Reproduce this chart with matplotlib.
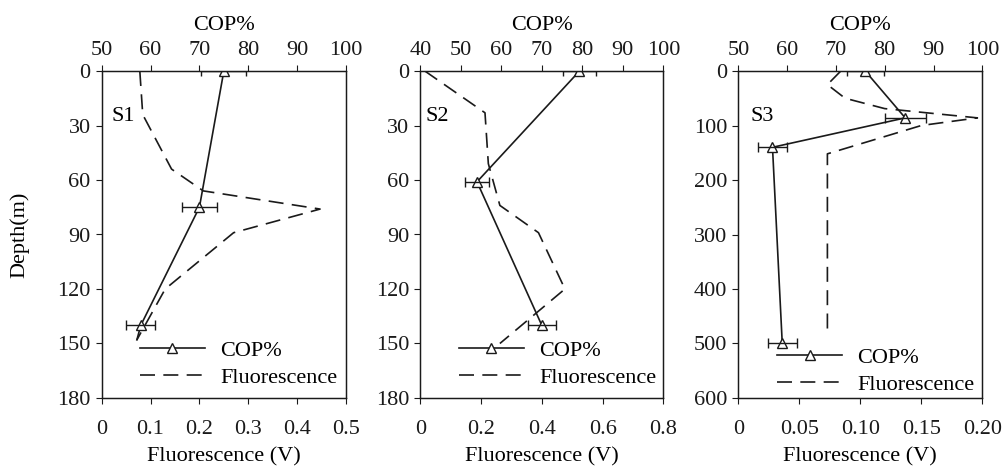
import matplotlib
matplotlib.use('Agg')
import matplotlib.pyplot as plt
from matplotlib.lines import Line2D

plt.rcParams['font.family'] = ['Liberation Serif', 'DejaVu Serif']
plt.rcParams['font.size'] = 16

# S1
s1_cop_depth = [0, 75, 140, 148]
s1_cop = [75, 70, 58, 57.2]
s1_cop_err = [4.6, 3.5, 3.0, 0]
s1_fl_depth = [0, 24, 54, 66, 76, 89, 120, 148]
s1_fl = [0.078, 0.084, 0.143, 0.208, 0.447, 0.27, 0.13, 0.072]

# S2
s2_cop_depth = [0, 61, 140]
s2_cop = [79.3, 54, 70]
s2_cop_err = [4.0, 3.0, 3.5]
s2_fl_depth = [0, 23, 51, 74, 89, 120, 150]
s2_fl = [0.015, 0.213, 0.224, 0.262, 0.389, 0.476, 0.262]

# S3
s3_cop_depth = [0, 86, 140, 500]
s3_cop = [76, 84.2, 57, 59]
s3_cop_err = [3.8, 4.2, 2.9, 3.0]
s3_fl_depth = [0, 25, 50, 69, 86, 100, 152, 485]
s3_fl = [0.084, 0.073, 0.0875, 0.120, 0.196, 0.150, 0.073, 0.073]

panels = [
    dict(name='S1', cd=s1_cop_depth, c=s1_cop, ce=s1_cop_err, fd=s1_fl_depth, f=s1_fl,
         nmark=3, xlim=(0, 0.5), xticks=[0, 0.1, 0.2, 0.3, 0.4, 0.5],
         xlabels=['0', '0.1', '0.2', '0.3', '0.4', '0.5'],
         tlim=(50, 100), tticks=[50, 60, 70, 80, 90, 100],
         ylim=180, yticks=[0, 30, 60, 90, 120, 150, 180],
         pos=[0.1013, 0.1514, 0.2433, 0.6972], leg=(0.157, 0.03), lab=(0.04, 0.86)),
    dict(name='S2', cd=s2_cop_depth, c=s2_cop, ce=s2_cop_err, fd=s2_fl_depth, f=s2_fl,
         nmark=3, xlim=(0, 0.8), xticks=[0, 0.2, 0.4, 0.6, 0.8],
         xlabels=['0', '0.2', '0.4', '0.6', '0.8'],
         tlim=(40, 100), tticks=[40, 50, 60, 70, 80, 90, 100],
         ylim=180, yticks=[0, 30, 60, 90, 120, 150, 180],
         pos=[0.4186, 0.1514, 0.2421, 0.6972], leg=(0.16, 0.03), lab=(0.02, 0.86)),
    dict(name='S3', cd=s3_cop_depth, c=s3_cop, ce=s3_cop_err, fd=s3_fl_depth, f=s3_fl,
         nmark=4, xlim=(0, 0.2), xticks=[0, 0.05, 0.10, 0.15, 0.20],
         xlabels=['0', '0.05', '0.10', '0.15', '0.20'],
         tlim=(50, 100), tticks=[50, 60, 70, 80, 90, 100],
         ylim=600, yticks=[0, 100, 200, 300, 400, 500, 600],
         pos=[0.7354, 0.1514, 0.2430, 0.6972], leg=(0.16, 0.01), lab=(0.05, 0.86)),
]

col = '#1a1a1a'
fig = plt.figure(figsize=(10.04, 4.69), dpi=100)

for i, p in enumerate(panels):
    ax = fig.add_axes(p['pos'])
    ax.plot(p['f'], p['fd'], color=col, lw=1.2, dashes=(9, 5))
    ax.set_xlim(*p['xlim'])
    ax.set_ylim(p['ylim'], 0)
    ax.set_xticks(p['xticks'])
    ax.set_xticklabels(p['xlabels'])
    ax.set_yticks(p['yticks'])
    ax.set_xlabel('Fluorescence (V)', labelpad=6)
    if i == 0:
        ax.set_ylabel('Depth(m)', labelpad=20)
    ax.text(p['lab'][0], p['lab'][1], p['name'], transform=ax.transAxes,
            ha='left', va='center')

    ax2 = ax.twiny()
    n = p['nmark']
    ax2.plot(p['c'], p['cd'], color=col, lw=1.2, marker='^', mfc='white',
             mec=col, ms=7, markevery=list(range(n)))
    ax2.errorbar(p['c'][:n], p['cd'][:n], xerr=p['ce'][:n], fmt='none',
                 ecolor=col, elinewidth=1.0, capsize=3.5)
    ax2.set_xlim(*p['tlim'])
    ax2.set_xticks(p['tticks'])
    ax2.set_xlabel('COP%', labelpad=8)
    ax2.set_ylim(p['ylim'], 0)

    for a in (ax, ax2):
        a.tick_params(direction='out', length=4, width=0.8, colors=col)
        for s in a.spines.values():
            s.set_linewidth(0.9)
            s.set_color(col)
    ax.tick_params(axis='x', pad=12)
    ax.tick_params(axis='y', pad=4)
    ax2.tick_params(axis='x', pad=4)

    handles = [Line2D([], [], color=col, lw=1.2, marker='^', mfc='white', mec=col, ms=7),
               Line2D([], [], color=col, lw=1.2, dashes=(9, 5))]
    ax2.legend(handles, ['COP%', 'Fluorescence'], loc='lower left',
               bbox_to_anchor=p['leg'], frameon=False, handlelength=2.9,
               handletextpad=0.7, labelspacing=0.3, borderaxespad=0, borderpad=0)

fig.savefig('out.png', dpi=100)
